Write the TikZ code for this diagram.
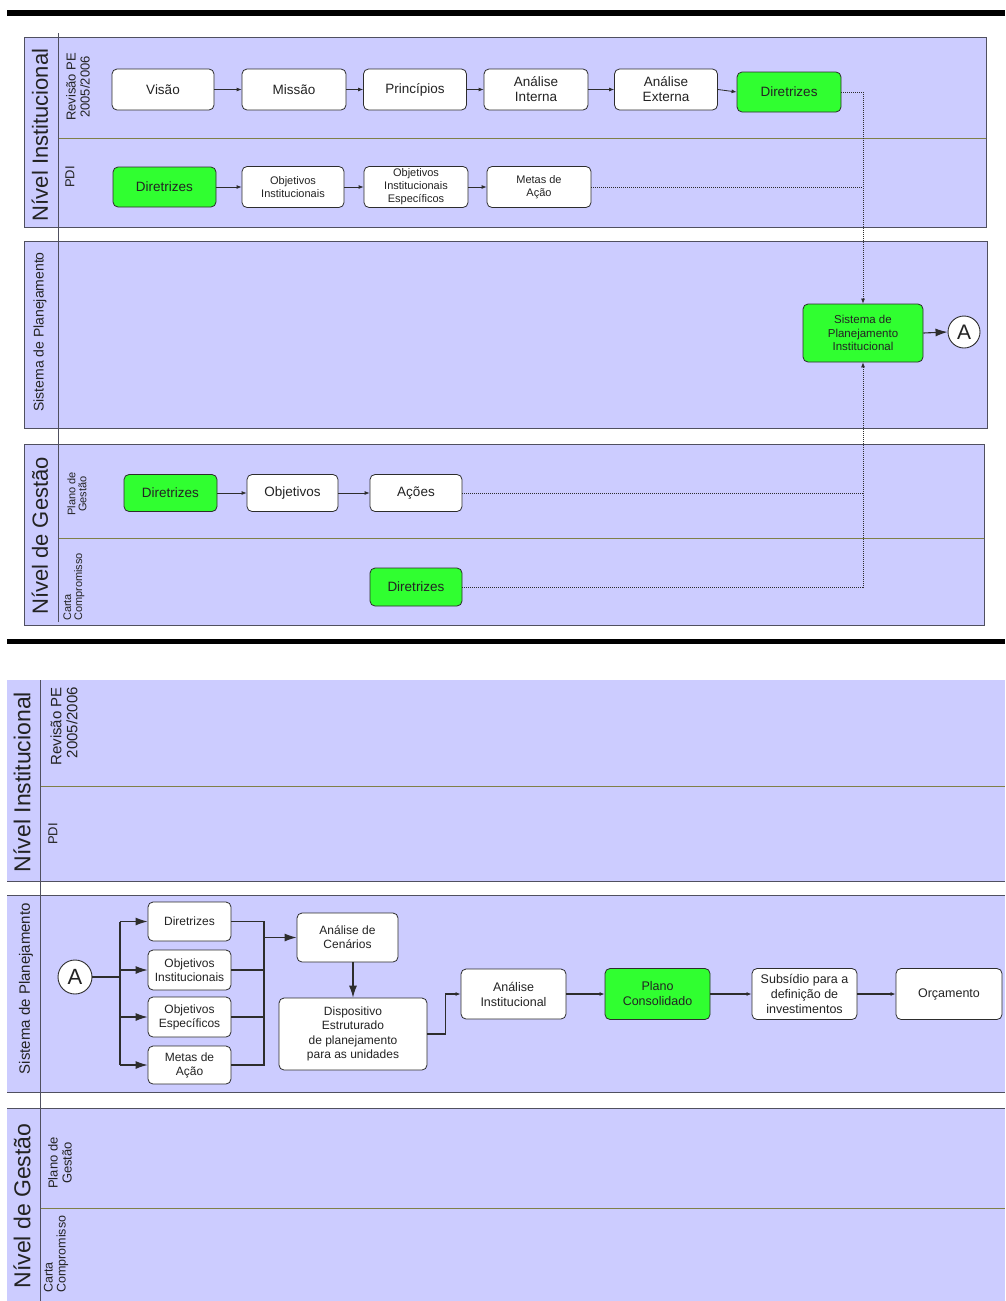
\documentclass[tikz,border=0pt]{standalone}
\usepackage{fontspec}
\setmainfont{Liberation Sans}
\usetikzlibrary{arrows.meta}
\definecolor{lanefill}{RGB}{204,204,255}
\definecolor{laneline}{RGB}{80,80,96}
\definecolor{oliveline}{RGB}{128,128,72}
\definecolor{boxgreen}{RGB}{48,255,48}
\definecolor{boxline}{RGB}{45,45,45}
\definecolor{inkgray}{RGB}{35,35,35}
\newcommand{\fsz}[2]{\fontsize{#1}{#2}\selectfont}

\begin{document}
\begin{tikzpicture}[x=1pt,y=-1pt,
  lane/.style={fill=lanefill,draw=laneline,line width=0.9pt},
  lanesep/.style={draw=oliveline,line width=0.9pt},
  lanetxt/.style={rotate=90,align=center,text=inkgray,inner sep=1pt},
  proc/.style={draw=boxline,fill=white,rounded corners=5pt,line width=0.8pt,
    align=center,inner sep=1pt,text=inkgray},
  procg/.style={proc,fill=boxgreen},
  conn/.style={circle,draw=boxline,fill=white,line width=0.9pt,inner sep=0pt,text=inkgray},
  flow/.style={draw=boxline,line width=0.8pt,-{Latex[length=5pt,width=4pt]}},
  bigflow/.style={draw=boxline,line width=1.1pt,-{Latex[length=12pt,width=8pt]}},
  plain/.style={draw=boxline,line width=1.1pt},
  link/.style={draw=boxline,line width=0.7pt,dash pattern=on 0.8pt off 1.2pt}]
\useasboundingbox (0,0) rectangle (1005,1301);
\fill[white] (0,0) rectangle (1005,1301);
% Drawing bars
\fill[black] (7,10) rectangle (1005,16);
\fill[black] (7,639) rectangle (1005,644);
% Drawing lanes (first view)
\draw[lane] (24,37) rectangle (986,227);
\draw[lane] (24,241) rectangle (987,428);
\draw[lane] (24,444) rectangle (984,625);
\draw[lanesep] (58,138) -- (986,138);
\draw[lanesep] (58,538) -- (984,538);
\draw[draw=laneline,line width=0.9pt] (58,33) -- (58,622);
\node[lanetxt,font=\fsz{22}{24}] (nivI) at (40,135) {Nível Institucional};
\node[lanetxt,font=\fsz{13}{14}] (revI) at (78,87) {Revisão PE\\2005/2006};
\node[lanetxt,font=\fsz{13}{14}] (pdiI) at (70,177) {PDI};
\node[lanetxt,font=\fsz{14}{16}] (sisI) at (40,332) {Sistema de Planejamento};
\node[lanetxt,font=\fsz{22}{24}] (nivG) at (40,536) {Nível de Gestão};
\node[lanetxt,font=\fsz{11}{11}] (plaG) at (77,494) {Plano de\\Gestão};
\node[lanetxt,font=\fsz{11}{11},anchor=west,align=left] (carG) at (74,622) {Carta\\Compromisso};
% Lane: Revisao PE
\node[proc,minimum width=102,minimum height=41,font=\fsz{13.5}{15}] (visao) at (163,89.5) {Visão};
\node[proc,minimum width=104,minimum height=41,font=\fsz{13.5}{15}] (missao) at (294,89.5) {Missão};
\node[proc,minimum width=103,minimum height=41,font=\fsz{13.5}{15}] (princ) at (415,89.5) {Princípios};
\node[proc,minimum width=104,minimum height=41,font=\fsz{13.5}{15}] (anaInt) at (536,89.5) {Análise\\Interna};
\node[proc,minimum width=103,minimum height=41,font=\fsz{13.5}{15}] (anaExt) at (666,89.5) {Análise\\Externa};
\node[procg,minimum width=104,minimum height=40,font=\fsz{13.5}{15}] (dirP) at (789,92) {Diretrizes};
\draw[flow] (visao) -- (missao);
\draw[flow] (missao) -- (princ);
\draw[flow] (princ) -- (anaInt);
\draw[flow] (anaInt) -- (anaExt);
\draw[flow] (anaExt.east) -- (dirP.west);
% Lane: PDI
\node[procg,minimum width=103,minimum height=40,font=\fsz{13.5}{15}] (dirD) at (164.5,187) {Diretrizes};
\node[proc,minimum width=102,minimum height=41,font=\fsz{11}{13}] (objD) at (293,187) {Objetivos\\Institucionais};
\node[proc,minimum width=104,minimum height=41,font=\fsz{11}{13}] (objEsD) at (416,187) {Objetivos\\Institucionais\\Específicos};
\node[proc,minimum width=104,minimum height=41,font=\fsz{11}{13}] (metD) at (539,187) {Metas de\\Ação};
\draw[flow] (dirD) -- (objD);
\draw[flow] (objD) -- (objEsD);
\draw[flow] (objEsD) -- (metD);
% Lane: Sistema de Planejamento
\node[procg,minimum width=120,minimum height=58,font=\fsz{11.5}{13.5}] (sis) at (863,333) {Sistema de\\Planejamento\\Institucional};
\node[conn,minimum size=32,font=\fsz{21}{21}] (A1) at (964,332) {A};
\draw[bigflow] (sis.east) -- (A1.west);
% Lane: Plano de Gestao
\node[procg,minimum width=93,minimum height=37,font=\fsz{13.5}{15}] (dirG) at (170.5,493) {Diretrizes};
\node[proc,minimum width=91,minimum height=37,font=\fsz{13.5}{15}] (objG) at (292.5,493) {Objetivos};
\node[proc,minimum width=92,minimum height=37,font=\fsz{13.5}{15}] (acoes) at (416,493) {Ações};
\draw[flow] (dirG) -- (objG);
\draw[flow] (objG) -- (acoes);
% Lane: Carta Compromisso
\node[procg,minimum width=92,minimum height=38,font=\fsz{13.5}{15}] (dirC) at (416,587) {Diretrizes};
% Dotted links into Sistema
\draw[link,-{Latex[length=5pt,width=4pt]}] (dirP.east) -| (sis.north);
\draw[link] (metD.east) -- (metD.east -| sis.north);
\draw[link,-{Latex[length=5pt,width=4pt]}] (dirC.east) -| (sis.south);
\draw[link] (acoes.east) -- (acoes.east -| sis.south);
% Drawing lanes (second view)
\fill[lanefill] (7,680) rectangle (1005,881);
\fill[lanefill] (7,895) rectangle (1005,1092);
\fill[lanefill] (7,1108) rectangle (1005,1301);
\draw[draw=laneline,line width=0.9pt] (7,881) -- (1005,881);
\draw[draw=laneline,line width=0.9pt] (7,895) -- (1005,895);
\draw[draw=laneline,line width=0.9pt] (7,1092) -- (1005,1092);
\draw[draw=laneline,line width=0.9pt] (7,1108) -- (1005,1108);
\draw[lanesep] (40,786) -- (1005,786);
\draw[lanesep] (40,1208) -- (1005,1208);
\draw[draw=laneline,line width=0.9pt] (40,680) -- (40,1301);
\node[lanetxt,font=\fsz{23}{25}] (nivIb) at (22,782) {Nível Institucional};
\node[lanetxt,font=\fsz{15}{16},anchor=east,align=right] (revIb) at (64,686) {Revisão PE\\2005/2006};
\node[lanetxt,font=\fsz{13}{14},anchor=east] (pdiIb) at (53,822) {PDI};
\node[lanetxt,font=\fsz{15}{16},anchor=east] (sisIb) at (26,902) {Sistema de Planejamento};
\node[lanetxt,font=\fsz{23}{25}] (nivGb) at (22,1206) {Nível de Gestão};
\node[lanetxt,font=\fsz{13}{14}] (plaGb) at (60,1163) {Plano de\\Gestão};
\node[lanetxt,font=\fsz{12.5}{13},anchor=west,align=left] (carGb) at (56,1294) {Carta\\Compromisso};
% Lane: Sistema de Planejamento (second view)
\node[conn,minimum size=34,font=\fsz{22}{22}] (A2) at (75,977) {A};
\coordinate (fork) at (120,977);
\coordinate (join) at (264,938);
\node[proc,minimum width=83,minimum height=39,font=\fsz{12}{14}] (dirB) at (189.5,921.5) {Diretrizes};
\node[proc,minimum width=83,minimum height=40,font=\fsz{12}{14}] (objIB) at (189.5,970) {Objetivos\\Institucionais};
\node[proc,minimum width=83,minimum height=40,font=\fsz{12}{14}] (objEB) at (189.5,1017) {Objetivos\\Específicos};
\node[proc,minimum width=83,minimum height=38,font=\fsz{12}{14}] (metB) at (189.5,1065) {Metas de\\Ação};
\node[proc,minimum width=101,minimum height=49,font=\fsz{12}{14}] (cen) at (347.5,937.5) {Análise de\\Cenários};
\node[proc,minimum width=148,minimum height=72,font=\fsz{12}{14.5}] (disp) at (353,1034) {Dispositivo\\Estruturado\\de planejamento\\para as unidades};
\node[proc,minimum width=105,minimum height=50,font=\fsz{12.5}{15}] (anaIns) at (513.5,994) {Análise\\Institucional};
\node[procg,minimum width=105,minimum height=51,font=\fsz{12.5}{15}] (plano) at (657.5,994) {Plano\\Consolidado};
\node[proc,minimum width=105,minimum height=51,font=\fsz{12.5}{15}] (subs) at (804.5,994) {Subsídio para a\\definição de\\investimentos};
\node[proc,minimum width=106,minimum height=51,font=\fsz{12.5}{15}] (orc) at (949,994) {Orçamento};
\draw[plain] (A2) -- (fork);
\draw[plain] (fork |- dirB) -- (fork |- metB);
\foreach \b in {dirB,objIB,objEB,metB}
  \draw[bigflow] (fork |- \b) -- (\b.west);
\draw[plain] (dirB.east) -| (join |- metB) -- (metB.east);
\draw[plain] (objIB.east) -- (objIB.east -| join);
\draw[plain] (objEB.east) -- (objEB.east -| join);
\draw[bigflow] (join |- cen) -- (cen.west);
\draw[bigflow] (cen.south -| disp.north) -- (disp.north);
\draw[flow,line width=1.1pt] (disp.east) -- ++(18,0) |- (anaIns.west);
\draw[flow,line width=1.1pt] (anaIns) -- (plano);
\draw[flow,line width=1.1pt] (plano) -- (subs);
\draw[flow,line width=1.1pt] (subs) -- (orc);
\end{tikzpicture}
\end{document}
